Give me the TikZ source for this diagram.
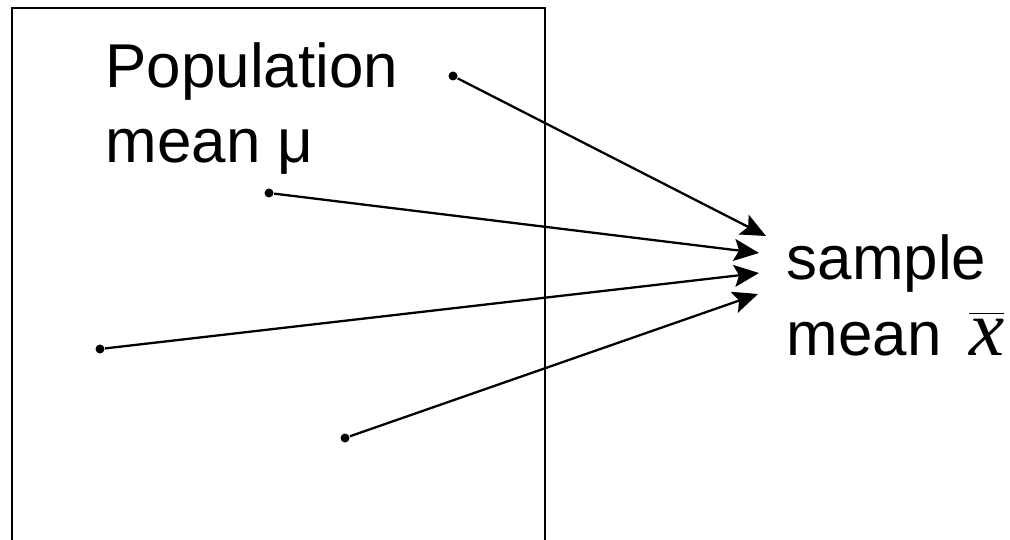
\documentclass[tikz,border=0pt]{standalone}
\usepackage{fontspec}
\setmainfont{Liberation Sans}
\newfontfamily\xfont{Liberation Serif}
\usetikzlibrary{arrows.meta}

\begin{document}
\begin{tikzpicture}[
    x=0.01cm, y=-0.01cm,
    dot/.style={circle, fill=black, inner sep=0pt, minimum size=0.09cm},
    label/.style={align=left, inner sep=0pt, font=\fontsize{17.6}{21.6}\selectfont},
    arr/.style={-{Stealth[length=0.25cm, width=0.22cm, inset=0.05cm]}, line width=0.65pt}
]
    \useasboundingbox (0,0) rectangle (1010,540);
    \draw[line width=0.6pt] (12,540) -- (12,8) -- (545,8) -- (545,540);

    \node[label, anchor=base west] (pop) at (105,163) {Population\\mean μ};
    \node[label, anchor=base west] (smp) at (786,355) {sample\\mean \,$\overline{\mbox{\xfont\itshape\fontsize{22.5}{22.5}\selectfont x}}$};

    \node[dot] (d1) at (453,76) {};
    \node[dot] (d2) at (269,193) {};
    \node[dot] (d3) at (100,349) {};
    \node[dot] (d4) at (345,438) {};

    \coordinate (t1) at (766,236);
    \coordinate (t2) at (759,253);
    \coordinate (t3) at (759,273);
    \coordinate (t4) at (758,294);

    \draw[arr] (d1) -- (t1);
    \draw[arr] (d2) -- (t2);
    \draw[arr] (d3) -- (t3);
    \draw[arr] (d4) -- (t4);
\end{tikzpicture}
\end{document}
